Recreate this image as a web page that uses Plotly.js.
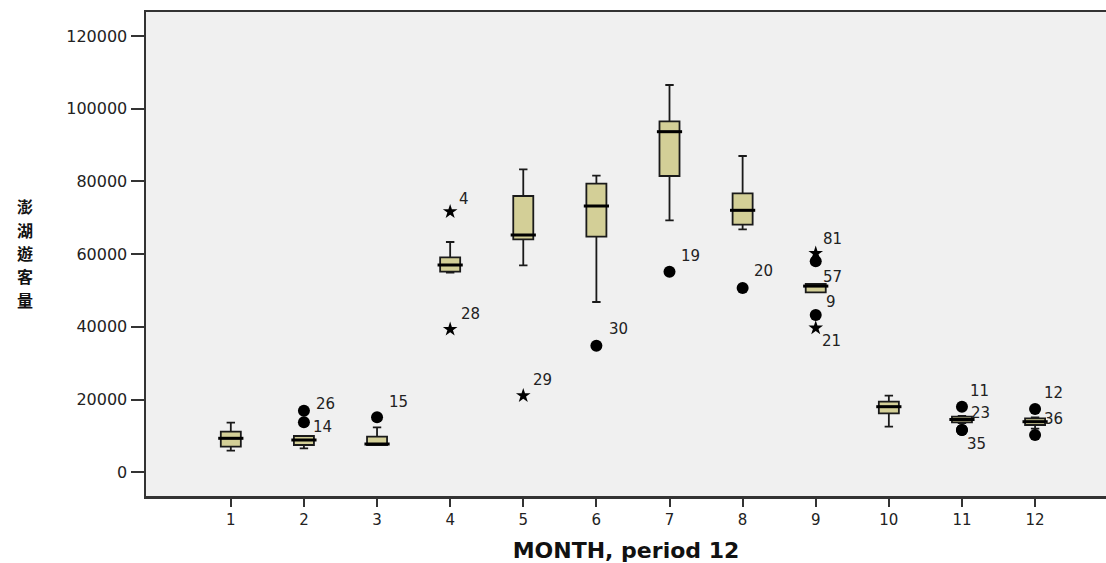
<!DOCTYPE html>
<html>
<head>
<meta charset="utf-8">
<script src="https://cdn.plot.ly/plotly-3.0.1.min.js"></script>
<style>
html,body{margin:0;padding:0;background:#fff;}
#chart{width:1106px;height:563px;}
</style>
</head>
<body>
<div id="chart"></div>
<script>
// ---- data ----
var months      = [1, 2, 3, 4, 5, 6, 7, 8, 9, 10, 11, 12];
var q1Vals      = [7015, 7483, 7483, 55158, 64071, 64786, 81485, 68087, 49490, 16203, 13700, 12985];
var medianVals  = [9326, 8858, 7758, 57001, 65254, 73232, 93672, 72049, 51200, 18019, 14500, 13893];
var q3Vals      = [11141, 9959, 9766, 59118, 75983, 79366, 96533, 76725, 51774, 19395, 15300, 14828];
var lowerVals   = [5915, 6575, 7483, 54882, 56918, 46822, 69298, 66822, 49490, 12517, 13500, 12000];
var upperVals   = [13617, 9959, 12352, 63328, 83328, 81567, 106519, 86987, 51774, 21045, 15500, 15100];

// outliers (circles) and extremes (stars)
var outMonths   = [2, 2, 3, 6, 7, 8, 9, 9, 11, 11, 11, 12, 12];
var outValues   = [16919, 13727, 15103, 34800, 55158, 50673, 58019, 43246, 18019, 11609, 11609, 17386, 10234];
var outIds      = ["26", "14", "15", "30", "19", "20", "57", "9", "11", "23", "35", "12", "36"];
var extMonths   = [4, 4, 5, 9, 9];
var extValues   = [71664, 39312, 21045, 60220, 39669];
var extIds      = ["4", "28", "29", "81", "21"];

var yTickVals   = [0, 20000, 40000, 60000, 80000, 100000, 120000];
var yTickText   = ["0", "20000", "40000", "60000", "80000", "100000", "120000"];
var xTickText   = ["1","2","3","4","5","6","7","8","9","10","11","12"];
var yTitleChars = ["澎", "湖", "遊", "客", "量"];

// label offsets in screen px (dx right, dy down) - layout only
var outLabelOffsets = [[22,-7],[19,5],[21,-15],[22,-17],[21,-16],[21,-17],[17,16],[15,-13],[18,-16],[19,-17],[15,14],[18,-16],[18,-16]];
var extLabelOffsets = [[14,-13],[20,-15],[19,-16],[17,-14],[16,13]];

var FONT = "DejaVu Sans, Liberation Sans, Arial, sans-serif";

var boxTrace = {
  type: "box",
  x: months,
  q1: q1Vals,
  median: medianVals,
  q3: q3Vals,
  lowerfence: lowerVals,
  upperfence: upperVals,
  boxpoints: false,
  width: 0.274,
  whiskerwidth: 0.42,
  fillcolor: "#d3cf97",
  line: {color: "#1a1a1a", width: 1.8},
  hoverinfo: "y",
  showlegend: false
};

var medianTrace = {
  type: "scatter",
  mode: "markers",
  x: months,
  y: medianVals,
  marker: {symbol: "line-ew", size: 18, color: "#000", line: {color: "#000", width: 3}},
  hoverinfo: "skip",
  showlegend: false
};

var outTrace = {
  type: "scatter",
  mode: "markers",
  x: outMonths,
  y: outValues,
  text: outIds,
  marker: {symbol: "circle", size: 12, color: "#000"},
  hoverinfo: "text+y",
  showlegend: false
};

var extTrace = {
  type: "scatter",
  mode: "markers",
  x: extMonths,
  y: extValues,
  text: extIds,
  marker: {symbol: "star", size: 11, color: "#000", line: {width: 0}},
  hoverinfo: "text+y",
  showlegend: false
};

var annotations = [];
function addLabels(xs, ys, ids, offs) {
  for (var i = 0; i < ids.length; i++) {
    annotations.push({
      x: xs[i], y: ys[i], xref: "x", yref: "y",
      text: ids[i], showarrow: false,
      xshift: offs[i][0], yshift: -offs[i][1],
      font: {family: FONT, size: 15, color: "#222"}
    });
  }
}
addLabels(outMonths, outValues, outIds, outLabelOffsets);
addLabels(extMonths, extValues, extIds, extLabelOffsets);

// vertical (stacked) y-axis title, one character per line
var plotH = 563 - 12 - 67;
var titleCenterPx = 253;      // pixel row of the title's centre
var charPitch = 23.5;         // px between character centres
for (var c = 0; c < yTitleChars.length; c++) {
  var py = titleCenterPx + (c - (yTitleChars.length - 1) / 2) * charPitch;
  annotations.push({
    xref: "paper", yref: "paper",
    x: -0.126, y: (563 - 67 - py) / plotH,
    xanchor: "center", yanchor: "middle",
    text: "<b>" + yTitleChars[c] + "</b>",
    showarrow: false,
    font: {family: "Noto Sans CJK TC, Noto Sans CJK SC, sans-serif", size: 16, color: "#111"}
  });
}

var layout = {
  width: 1106,
  height: 563,
  margin: {l: 146, r: 0, t: 12, b: 67},
  paper_bgcolor: "#ffffff",
  plot_bgcolor: "#f0f0f0",
  showlegend: false,
  xaxis: {
    range: [-0.16, 12.97],
    tickmode: "array",
    tickvals: months,
    ticktext: xTickText,
    ticks: "outside",
    ticklen: 8,
    tickwidth: 2,
    tickcolor: "#333",
    showgrid: false,
    zeroline: false,
    showline: true,
    mirror: true,
    linecolor: "#333",
    linewidth: 2.5,
    tickfont: {family: FONT, size: 15, color: "#222"},
    title: {text: "<b>MONTH, period 12</b>", font: {family: FONT, size: 22, color: "#111"}, standoff: 18}
  },
  yaxis: {
    range: [-6547, 126600],
    tickmode: "array",
    tickvals: yTickVals,
    ticktext: yTickText,
    ticks: "outside",
    ticklen: 13,
    tickwidth: 2,
    tickcolor: "#333",
    showgrid: false,
    zeroline: false,
    showline: true,
    linecolor: "#333",
    linewidth: 2.5,
    tickfont: {family: FONT, size: 16, color: "#222"}
  },
  annotations: annotations
};

Plotly.newPlot("chart", [boxTrace, medianTrace, outTrace, extTrace], layout, {staticPlot: true});
</script>
</body>
</html>
